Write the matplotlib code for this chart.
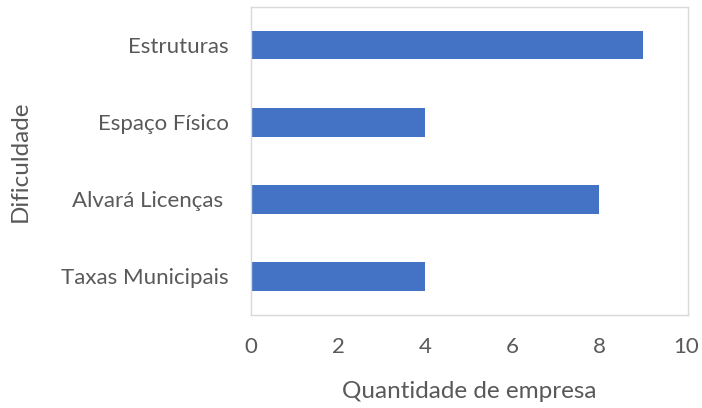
import numpy as np
import matplotlib.pyplot as plt

categories = ['Taxas Municipais', 'Alvará Licenças ', 'Espaço Físico', 'Estruturas']
values = [4, 8, 4, 9]
xticks = [0, 2, 4, 6, 8, 10]

plt.rcParams['font.family'] = ['Lato', 'DejaVu Sans']
txt = '#595959'

fig = plt.figure(figsize=(7.02, 4.08), dpi=100)
ax = fig.add_axes([0.3575, 0.228, 0.623, 0.755])

y = np.arange(len(categories))
ax.barh(y, values, height=0.365, color='#4472C4')

ax.set_xlim(0, 10.05)
ax.set_ylim(-0.5, len(categories) - 0.5)
ax.set_yticks(y)
ax.set_yticklabels(categories, fontsize=16, color=txt)
ax.set_xticks(xticks)
ax.set_xticklabels([str(t) for t in xticks], fontsize=16, color=txt)
ax.tick_params(length=0)
ax.tick_params(axis='x', pad=16)
ax.tick_params(axis='y', pad=16)

for s in ax.spines.values():
    s.set_color('#d9d9d9')
    s.set_linewidth(1)

ax.set_xlabel('Quantidade de empresa', fontsize=17.5, color=txt, labelpad=17)
ax.set_ylabel('Dificuldade', fontsize=17.5, color=txt, labelpad=22)

fig.savefig('out.png', dpi=100)
